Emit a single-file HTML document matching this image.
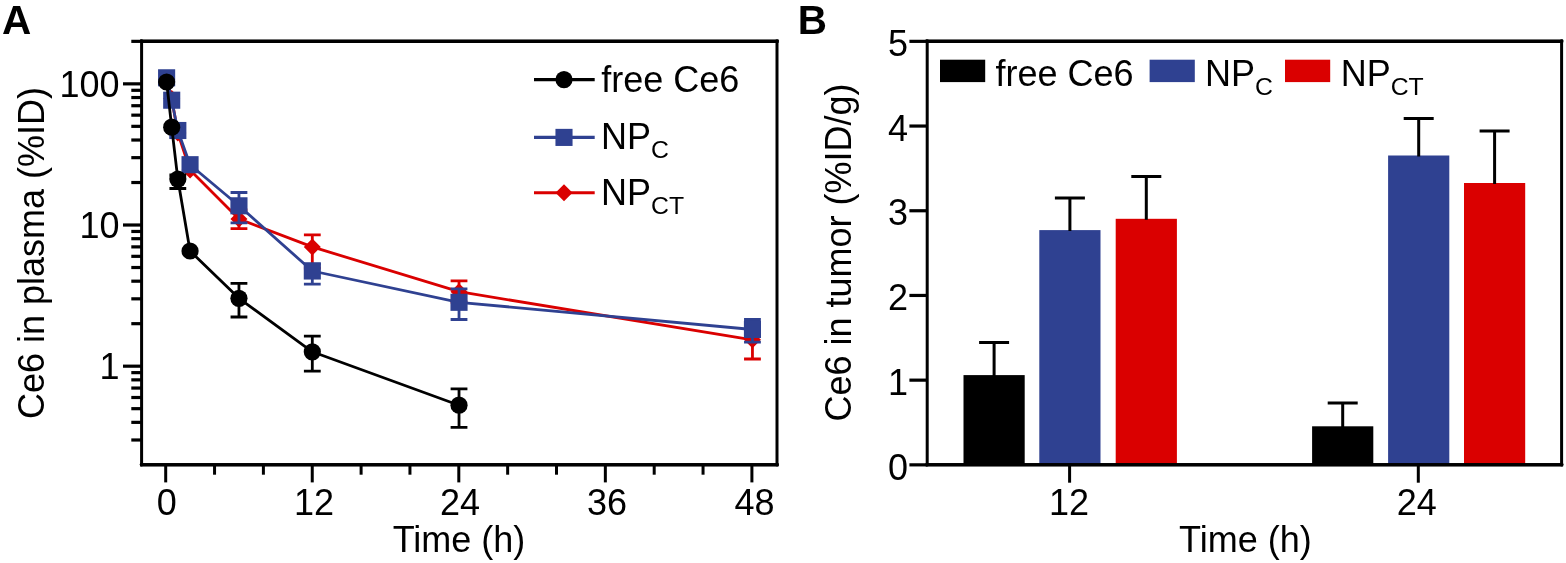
<!DOCTYPE html>
<html lang="en">
<head>
<meta charset="utf-8">
<title>Ce6 pharmacokinetics and tumor accumulation</title>
<style>
html,body{margin:0;padding:0;background:#fff;}
body{width:1566px;height:563px;overflow:hidden;}
svg{display:block;}
</style>
</head>
<body>
<svg width="1566" height="563" viewBox="0 0 1566 563">
<rect width="1566" height="563" fill="#fff"/>
<g id="panelA">
<line x1="131.3" y1="439.99" x2="141.6" y2="439.99" stroke="#000" stroke-width="3.2"/>
<line x1="131.3" y1="422.35" x2="141.6" y2="422.35" stroke="#000" stroke-width="3.2"/>
<line x1="131.3" y1="408.67" x2="141.6" y2="408.67" stroke="#000" stroke-width="3.2"/>
<line x1="131.3" y1="397.50" x2="141.6" y2="397.50" stroke="#000" stroke-width="3.2"/>
<line x1="131.3" y1="388.05" x2="141.6" y2="388.05" stroke="#000" stroke-width="3.2"/>
<line x1="131.3" y1="379.86" x2="141.6" y2="379.86" stroke="#000" stroke-width="3.2"/>
<line x1="131.3" y1="372.64" x2="141.6" y2="372.64" stroke="#000" stroke-width="3.2"/>
<line x1="123.0" y1="366.18" x2="141.6" y2="366.18" stroke="#000" stroke-width="3.2"/>
<line x1="131.3" y1="323.68" x2="141.6" y2="323.68" stroke="#000" stroke-width="3.2"/>
<line x1="131.3" y1="298.83" x2="141.6" y2="298.83" stroke="#000" stroke-width="3.2"/>
<line x1="131.3" y1="281.19" x2="141.6" y2="281.19" stroke="#000" stroke-width="3.2"/>
<line x1="131.3" y1="267.51" x2="141.6" y2="267.51" stroke="#000" stroke-width="3.2"/>
<line x1="131.3" y1="256.33" x2="141.6" y2="256.33" stroke="#000" stroke-width="3.2"/>
<line x1="131.3" y1="246.88" x2="141.6" y2="246.88" stroke="#000" stroke-width="3.2"/>
<line x1="131.3" y1="238.69" x2="141.6" y2="238.69" stroke="#000" stroke-width="3.2"/>
<line x1="131.3" y1="231.47" x2="141.6" y2="231.47" stroke="#000" stroke-width="3.2"/>
<line x1="123.0" y1="225.01" x2="141.6" y2="225.01" stroke="#000" stroke-width="3.2"/>
<line x1="131.3" y1="182.52" x2="141.6" y2="182.52" stroke="#000" stroke-width="3.2"/>
<line x1="131.3" y1="157.66" x2="141.6" y2="157.66" stroke="#000" stroke-width="3.2"/>
<line x1="131.3" y1="140.02" x2="141.6" y2="140.02" stroke="#000" stroke-width="3.2"/>
<line x1="131.3" y1="126.34" x2="141.6" y2="126.34" stroke="#000" stroke-width="3.2"/>
<line x1="131.3" y1="115.16" x2="141.6" y2="115.16" stroke="#000" stroke-width="3.2"/>
<line x1="131.3" y1="105.71" x2="141.6" y2="105.71" stroke="#000" stroke-width="3.2"/>
<line x1="131.3" y1="97.53" x2="141.6" y2="97.53" stroke="#000" stroke-width="3.2"/>
<line x1="131.3" y1="90.30" x2="141.6" y2="90.30" stroke="#000" stroke-width="3.2"/>
<line x1="123.0" y1="83.85" x2="141.6" y2="83.85" stroke="#000" stroke-width="3.2"/>
<line x1="131.3" y1="41.35" x2="141.6" y2="41.35" stroke="#000" stroke-width="3.2"/>
<line x1="165.70" y1="464.6" x2="165.70" y2="482.4" stroke="#000" stroke-width="3.0"/>
<line x1="214.55" y1="464.6" x2="214.55" y2="474.7" stroke="#000" stroke-width="3.0"/>
<line x1="263.40" y1="464.6" x2="263.40" y2="474.7" stroke="#000" stroke-width="3.0"/>
<line x1="312.25" y1="464.6" x2="312.25" y2="482.4" stroke="#000" stroke-width="3.0"/>
<line x1="361.10" y1="464.6" x2="361.10" y2="474.7" stroke="#000" stroke-width="3.0"/>
<line x1="409.95" y1="464.6" x2="409.95" y2="474.7" stroke="#000" stroke-width="3.0"/>
<line x1="458.80" y1="464.6" x2="458.80" y2="482.4" stroke="#000" stroke-width="3.0"/>
<line x1="507.65" y1="464.6" x2="507.65" y2="474.7" stroke="#000" stroke-width="3.0"/>
<line x1="556.50" y1="464.6" x2="556.50" y2="474.7" stroke="#000" stroke-width="3.0"/>
<line x1="605.35" y1="464.6" x2="605.35" y2="482.4" stroke="#000" stroke-width="3.0"/>
<line x1="654.20" y1="464.6" x2="654.20" y2="474.7" stroke="#000" stroke-width="3.0"/>
<line x1="703.05" y1="464.6" x2="703.05" y2="474.7" stroke="#000" stroke-width="3.0"/>
<line x1="751.90" y1="464.6" x2="751.90" y2="482.4" stroke="#000" stroke-width="3.0"/>
<g stroke="#da0000" fill="#da0000">
<path d="M238.96,210.00V228.70M230.56,210.00H247.36M230.56,228.70H247.36" fill="none" stroke-width="2.8"/>
<path d="M312.31,234.80V268.00M303.91,234.80H320.71M303.91,268.00H320.71" fill="none" stroke-width="2.8"/>
<path d="M459.02,280.90V302.00M450.62,280.90H467.42M450.62,302.00H467.42" fill="none" stroke-width="2.8"/>
<path d="M752.45,325.00V359.00M744.05,325.00H760.85M744.05,359.00H760.85" fill="none" stroke-width="2.8"/>
<polyline points="166.61,79.50 171.71,98.40 177.83,133.00 190.05,170.00 238.96,219.00 312.31,246.90 459.02,291.70 752.45,339.80" fill="none" stroke-width="2.8" stroke-linejoin="round"/>
<path d="M158.11,79.50L166.61,71.00L175.11,79.50L166.61,88.00Z" stroke="none"/>
<path d="M163.21,98.40L171.71,89.90L180.21,98.40L171.71,106.90Z" stroke="none"/>
<path d="M169.33,133.00L177.83,124.50L186.33,133.00L177.83,141.50Z" stroke="none"/>
<path d="M181.55,170.00L190.05,161.50L198.55,170.00L190.05,178.50Z" stroke="none"/>
<path d="M230.46,219.00L238.96,210.50L247.46,219.00L238.96,227.50Z" stroke="none"/>
<path d="M303.81,246.90L312.31,238.40L320.81,246.90L312.31,255.40Z" stroke="none"/>
<path d="M450.52,291.70L459.02,283.20L467.52,291.70L459.02,300.20Z" stroke="none"/>
<path d="M743.95,339.80L752.45,331.30L760.95,339.80L752.45,348.30Z" stroke="none"/>
</g>
<g stroke="#2f4191" fill="#2f4191">
<path d="M238.96,192.50V222.80M230.56,192.50H247.36M230.56,222.80H247.36" fill="none" stroke-width="2.8"/>
<path d="M312.31,264.00V284.10M303.91,264.00H320.71M303.91,284.10H320.71" fill="none" stroke-width="2.8"/>
<path d="M459.02,288.90V319.50M450.62,288.90H467.42M450.62,319.50H467.42" fill="none" stroke-width="2.8"/>
<path d="M752.45,319.50V342.20M744.05,319.50H760.85M744.05,342.20H760.85" fill="none" stroke-width="2.8"/>
<polyline points="166.61,77.80 171.71,100.20 177.83,130.50 190.05,164.70 238.96,205.80 312.31,271.00 459.02,302.30 752.45,329.50" fill="none" stroke-width="2.8" stroke-linejoin="round"/>
<rect x="158.06" y="69.25" width="17.1" height="17.1" stroke="none"/>
<rect x="163.16" y="91.65" width="17.1" height="17.1" stroke="none"/>
<rect x="169.28" y="121.95" width="17.1" height="17.1" stroke="none"/>
<rect x="181.50" y="156.15" width="17.1" height="17.1" stroke="none"/>
<rect x="230.41" y="197.25" width="17.1" height="17.1" stroke="none"/>
<rect x="303.76" y="262.45" width="17.1" height="17.1" stroke="none"/>
<rect x="450.47" y="293.75" width="17.1" height="17.1" stroke="none"/>
<rect x="743.90" y="320.95" width="17.1" height="17.1" stroke="none"/>
</g>
<g stroke="#000" fill="#000">
<path d="M177.83,175.00V188.50M169.43,175.00H186.23M169.43,188.50H186.23" fill="none" stroke-width="2.8"/>
<path d="M238.96,283.40V317.00M230.56,283.40H247.36M230.56,317.00H247.36" fill="none" stroke-width="2.8"/>
<path d="M312.31,336.20V371.20M303.91,336.20H320.71M303.91,371.20H320.71" fill="none" stroke-width="2.8"/>
<path d="M459.02,388.90V427.30M450.62,388.90H467.42M450.62,427.30H467.42" fill="none" stroke-width="2.8"/>
<polyline points="166.61,82.00 171.71,127.20 177.83,179.10 190.05,251.00 238.96,298.30 312.31,351.80 459.02,405.20" fill="none" stroke-width="2.8" stroke-linejoin="round"/>
<circle cx="166.61" cy="82.00" r="8.6" stroke="none"/>
<circle cx="171.71" cy="127.20" r="8.6" stroke="none"/>
<circle cx="177.83" cy="179.10" r="8.6" stroke="none"/>
<circle cx="190.05" cy="251.00" r="8.6" stroke="none"/>
<circle cx="238.96" cy="298.30" r="8.6" stroke="none"/>
<circle cx="312.31" cy="351.80" r="8.6" stroke="none"/>
<circle cx="459.02" cy="405.20" r="8.6" stroke="none"/>
</g>
<rect x="141.6" y="41.1" width="635.4" height="423.5" fill="none" stroke="#000" stroke-width="3.0"/>
<path d="M140.1,41.35H778.5M140.1,464.85H778.5" fill="none" stroke="#000" stroke-width="3.2"/>
<circle cx="141.6" cy="41.1" r="1.9" fill="#000"/>
<circle cx="777.0" cy="41.1" r="1.9" fill="#000"/>
<circle cx="141.6" cy="464.6" r="1.9" fill="#000"/>
<circle cx="777.0" cy="464.6" r="1.9" fill="#000"/>
<g stroke="#000" fill="#000"><line x1="534" y1="79.6" x2="594.7" y2="79.6" stroke-width="3.1"/><circle cx="564.00" cy="79.60" r="8.6" stroke="none"/></g>
<g stroke="#2f4191" fill="#2f4191"><line x1="534" y1="137.4" x2="594.7" y2="137.4" stroke-width="3.1"/><rect x="555.45" y="128.85" width="17.1" height="17.1" stroke="none"/></g>
<g stroke="#da0000" fill="#da0000"><line x1="534" y1="192.7" x2="594.7" y2="192.7" stroke-width="3.1"/><path d="M555.50,192.70L564.00,184.20L572.50,192.70L564.00,201.20Z" stroke="none"/></g>
</g>
<g id="panelB">
<rect x="963.5" y="375.1" width="61.2" height="89.5" fill="#000"/>
<path d="M994.1,376.1V342.4M979.1,342.4H1009.1" fill="none" stroke="#000" stroke-width="3"/>
<rect x="1039.3" y="230.1" width="61.2" height="234.5" fill="#2f4191"/>
<path d="M1069.9,231.1V197.9M1054.9,197.9H1084.9" fill="none" stroke="#000" stroke-width="3"/>
<rect x="1115.7" y="218.8" width="61.2" height="245.8" fill="#da0000"/>
<path d="M1146.3,219.8V176.4M1131.3,176.4H1161.3" fill="none" stroke="#000" stroke-width="3"/>
<rect x="1312.1" y="426.3" width="61.2" height="38.3" fill="#000"/>
<path d="M1342.7,427.3V403.1M1327.7,403.1H1357.7" fill="none" stroke="#000" stroke-width="3"/>
<rect x="1388.1" y="155.5" width="61.2" height="309.1" fill="#2f4191"/>
<path d="M1418.7,156.5V118.5M1403.7,118.5H1433.7" fill="none" stroke="#000" stroke-width="3"/>
<rect x="1464.0" y="183.0" width="61.2" height="281.6" fill="#da0000"/>
<path d="M1494.6,184.0V131.0M1479.6,131.0H1509.6" fill="none" stroke="#000" stroke-width="3"/>
<line x1="909.4" y1="464.85" x2="927.2" y2="464.85" stroke="#000" stroke-width="3.2"/>
<line x1="909.4" y1="380.15" x2="927.2" y2="380.15" stroke="#000" stroke-width="3.2"/>
<line x1="909.4" y1="295.45" x2="927.2" y2="295.45" stroke="#000" stroke-width="3.2"/>
<line x1="909.4" y1="210.75" x2="927.2" y2="210.75" stroke="#000" stroke-width="3.2"/>
<line x1="909.4" y1="126.05" x2="927.2" y2="126.05" stroke="#000" stroke-width="3.2"/>
<line x1="909.4" y1="41.35" x2="927.2" y2="41.35" stroke="#000" stroke-width="3.2"/>
<line x1="1069.6" y1="464.6" x2="1069.6" y2="482.7" stroke="#000" stroke-width="3.0"/>
<line x1="1418.3" y1="464.6" x2="1418.3" y2="482.7" stroke="#000" stroke-width="3.0"/>
<rect x="927.2" y="41.1" width="634.4" height="423.5" fill="none" stroke="#000" stroke-width="3.0"/>
<path d="M925.7,41.35H1563.1M925.7,464.85H1563.1" fill="none" stroke="#000" stroke-width="3.2"/>
<circle cx="927.2" cy="41.1" r="1.9" fill="#000"/>
<circle cx="1561.6" cy="41.1" r="1.9" fill="#000"/>
<circle cx="927.2" cy="464.6" r="1.9" fill="#000"/>
<circle cx="1561.6" cy="464.6" r="1.9" fill="#000"/>
<rect x="940" y="59.7" width="45.2" height="22.4" fill="#000"/>
<rect x="1149.6" y="59.7" width="45.2" height="22.4" fill="#2f4191"/>
<rect x="1285" y="59.7" width="45.2" height="22.4" fill="#da0000"/>
</g>
<g font-family="'Liberation Sans', sans-serif" font-size="36" fill="#000">
<text x="1.9" y="33.9" font-weight="bold" font-size="40.5">A</text>
<text x="797.7" y="33.9" font-weight="bold" font-size="40.5">B</text>
<text x="119.5" y="97.0" text-anchor="end">100</text>
<text x="119.5" y="238.2" text-anchor="end">10</text>
<text x="119.5" y="379.3" text-anchor="end">1</text>
<text x="166.7" y="514.6" text-anchor="middle">0</text>
<text x="313.9" y="514.6" text-anchor="middle">12</text>
<text x="460.0" y="514.6" text-anchor="middle">24</text>
<text x="607.1" y="514.6" text-anchor="middle">36</text>
<text x="754.4" y="514.6" text-anchor="middle">48</text>
<text x="459" y="552.1" text-anchor="middle">Time (h)</text>
<text transform="translate(43.6,253) rotate(-90)" text-anchor="middle">Ce6 in plasma (%ID)</text>
<text x="601.2" y="91.7">free Ce6</text>
<text x="601.1" y="148.7">NP<tspan font-size="24.8" dy="8.9">C</tspan></text>
<text x="601.1" y="204.8">NP<tspan font-size="24.8" dy="8.9">CT</tspan></text>
<text x="908" y="479.5" text-anchor="end">0</text>
<text x="908" y="394.8" text-anchor="end">1</text>
<text x="908" y="310.1" text-anchor="end">2</text>
<text x="908" y="225.4" text-anchor="end">3</text>
<text x="908" y="140.7" text-anchor="end">4</text>
<text x="908" y="56.0" text-anchor="end">5</text>
<text x="1069.0" y="514.6" text-anchor="middle">12</text>
<text x="1416.8" y="514.6" text-anchor="middle">24</text>
<text x="1245.4" y="552.1" text-anchor="middle">Time (h)</text>
<text transform="translate(851.2,252.5) rotate(-90)" text-anchor="middle">Ce6 in tumor (%ID/g)</text>
<text x="995.4" y="85.6">free Ce6</text>
<text x="1205.0" y="85.6">NP<tspan font-size="24.8" dy="8.9">C</tspan></text>
<text x="1340.7" y="85.6">NP<tspan font-size="24.8" dy="8.9">CT</tspan></text>
</g>
</svg>
</body>
</html>
